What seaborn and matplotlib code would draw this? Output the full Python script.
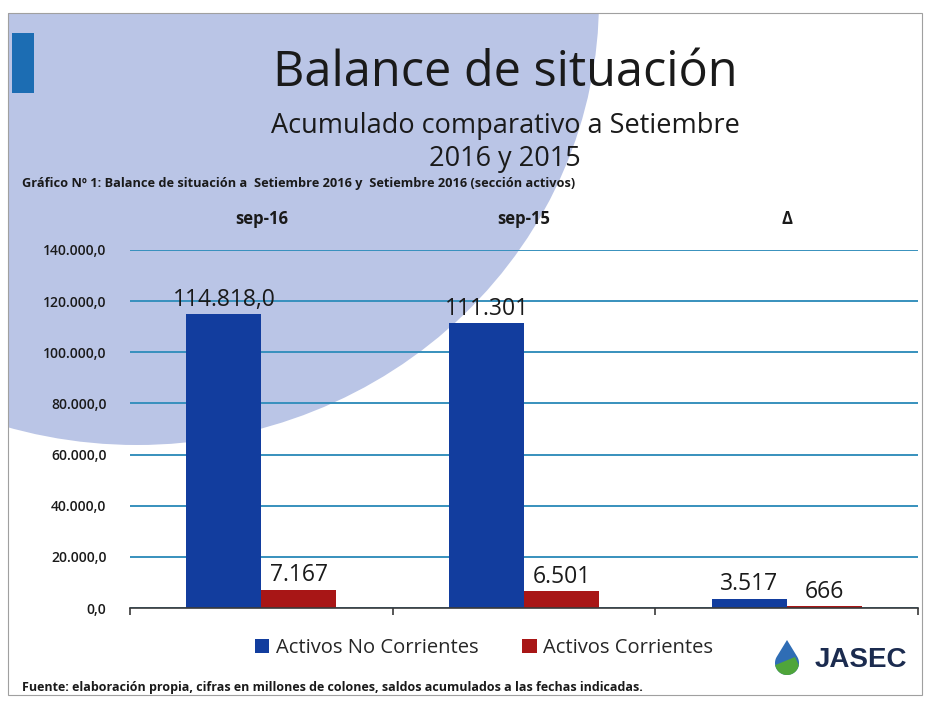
import numpy as np
import pandas as pd
import matplotlib
matplotlib.use('Agg')
import matplotlib.pyplot as plt
import matplotlib.ticker as ticker
from matplotlib.patches import Ellipse, Rectangle, Polygon
from matplotlib.transforms import Affine2D
import seaborn as sns

# datos (millones de colones)
periodos = ['sep-16', 'sep-15', 'Δ']
series = ['Activos No Corrientes', 'Activos Corrientes']
no_corrientes = [114818.0, 111301.0, 3517.0]
corrientes = [7167.0, 6501.0, 666.0]
etiquetas_no_corr = ['114.818,0', '111.301', '3.517']
etiquetas_corr = ['7.167', '6.501', '666']
y_ticks = [0, 20000, 40000, 60000, 80000, 100000, 120000, 140000]

df = pd.DataFrame({
    'Periodo': periodos * 2,
    'Serie': [series[0]] * 3 + [series[1]] * 3,
    'Valor': no_corrientes + corrientes,
})

AZUL = '#123d9e'
ROJO = '#a81616'
GRID = '#3790bd'
TXT = '#1a1a1a'

sns.set_theme(style="white")
plt.rcParams['font.family'] = ['Open Sans', 'DejaVu Sans']

W, H = 927, 701
fig = plt.figure(figsize=(W / 100, H / 100), dpi=100)
fig.patch.set_facecolor('white')
# transform en pixeles (y hacia abajo)
px = Affine2D().scale(1 / W, -1 / H).translate(0, 1) + fig.transFigure

# fondo de la diapositiva
marco = Rectangle((8, 13), 914, 682, transform=px, fill=False,
                  edgecolor='#a0a0a0', lw=0.8, zorder=-1)
fig.patches.append(marco)
circulo = Ellipse((137, 0), 924, 890, transform=px, facecolor='#bac5e6',
                  edgecolor='none', zorder=-2)
clip = Rectangle((8, 13), 914, 682, transform=px)
circulo.set_clip_path(clip)
fig.patches.append(circulo)
fig.patches.append(Rectangle((12, 33), 22, 60, transform=px,
                             facecolor='#1c6db3', edgecolor='none', zorder=-1))

# titulos
fig.text(505, 73, 'Balance de situación', transform=px, ha='center', va='center',
         fontsize=35, color=TXT)
fig.text(505, 126, 'Acumulado comparativo a Setiembre', transform=px, ha='center',
         va='center', fontsize=19.5, color=TXT)
fig.text(505, 159, '2016 y 2015', transform=px, ha='center', va='center',
         fontsize=19.5, color=TXT)
fig.text(22, 184, 'Gráfico Nº 1: Balance de situación a  Setiembre 2016 y  Setiembre 2016 (sección activos)',
         transform=px, ha='left', va='center', fontsize=9.2, fontweight='bold', color=TXT)
fig.text(22, 687, 'Fuente: elaboración propia, cifras en millones de colones, saldos acumulados a las fechas indicadas.',
         transform=px, ha='left', va='center', fontsize=9, fontweight='bold', color=TXT)

# grafico
ax = fig.add_axes([130 / W, 1 - 608 / H, 788 / W, 358 / H])
ax.patch.set_alpha(0)
sns.barplot(data=df, x='Periodo', y='Valor', hue='Serie', palette=[AZUL, ROJO],
            width=0.57, saturation=1, linewidth=0, ax=ax, legend=True)

ax.set_ylim(0, 140000)
ax.set_xlim(-0.5, 2.5)
ax.set_yticks(y_ticks)
ax.yaxis.set_major_formatter(ticker.FuncFormatter(
    lambda v, p: f'{v:,.1f}'.replace(',', 'X').replace('.', ',').replace('X', '.')))
ax.grid(axis='y', color=GRID, lw=1.4)
ax.grid(axis='x', visible=False)
ax.set_axisbelow(True)
ax.set_xlabel('')
ax.set_ylabel('')
for s in ['left', 'right', 'top']:
    ax.spines[s].set_visible(False)
ax.spines['bottom'].set_color('#3a3a3a')
ax.spines['bottom'].set_linewidth(1.2)
ax.tick_params(axis='y', length=0, pad=17, labelsize=10, labelcolor=TXT)
for t in ax.get_yticklabels():
    t.set_fontweight('semibold')
ax.tick_params(axis='x', which='major', top=True, labeltop=True, bottom=False,
               labelbottom=False, length=0, pad=16, labelsize=12, labelcolor=TXT)
for t in ax.get_xticklabels():
    t.set_fontweight('bold')
ax.set_xticks([-0.5, 0.5, 1.5, 2.5], minor=True)
ax.tick_params(axis='x', which='minor', bottom=True, top=False, length=5,
               width=1.2, color='#3a3a3a', direction='out')

ax.bar_label(ax.containers[0], labels=etiquetas_no_corr, padding=2, fontsize=16.5, color=TXT)
ax.bar_label(ax.containers[1], labels=etiquetas_corr, padding=2, fontsize=16.5, color=TXT)

sns.move_legend(ax, 'center', bbox_to_anchor=((484 - 130) / 788, (608 - 648) / 358),
                ncol=2, frameon=False, title=None, fontsize=14.5, handlelength=0.7,
                handleheight=0.7, handletextpad=0.3, columnspacing=2.2)

# logo
cx, cy, r = 787, 663, 12
ang = np.radians(np.linspace(-31.5, 211.5, 60))
gota = np.vstack([[cx, cy - 23], np.column_stack([cx + r * np.cos(ang), cy + r * np.sin(ang)])])
fig.patches.append(Polygon(gota, closed=True, transform=px, facecolor='#2f6db5', edgecolor='none'))
ang2 = np.radians(np.linspace(10, 170, 40))
verde = np.column_stack([cx + r * np.cos(ang2), cy + r * np.sin(ang2)])
verde = np.vstack([[cx + 8, cy - 6], verde])
fig.patches.append(Polygon(verde, closed=True, transform=px, facecolor='#4fa53a', edgecolor='none'))
fig.text(861, 660, 'JASEC', transform=px, ha='center', va='center', fontsize=20,
         fontweight='bold', color='#1b2b4f', family=['Liberation Sans', 'DejaVu Sans'])

fig.savefig('out.png', dpi=100)
